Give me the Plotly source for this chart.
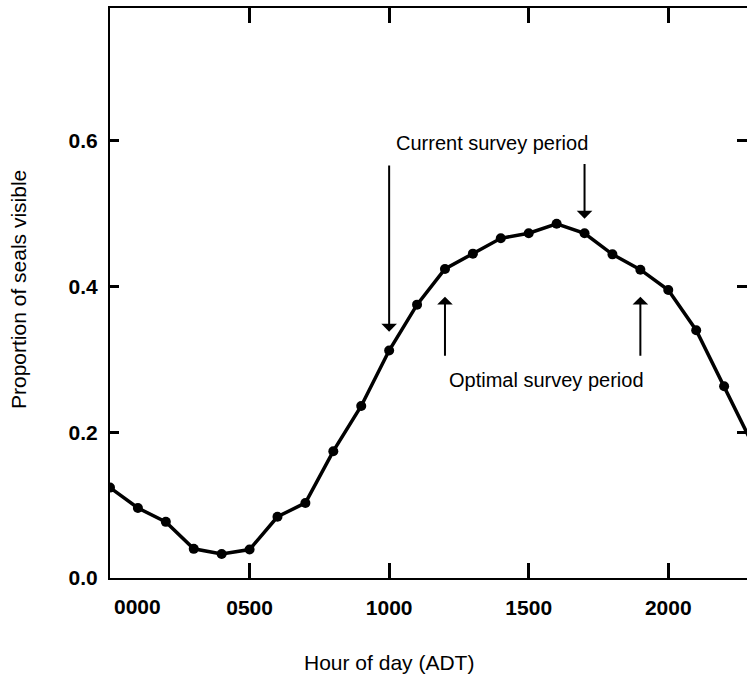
import plotly.graph_objects as go

# Data: hour of day (ADT, x100) and proportion of seals visible
hours = [0, 100, 200, 300, 400, 500, 600, 700, 800, 900, 1000, 1100,
         1200, 1300, 1400, 1500, 1600, 1700, 1800, 1900, 2000, 2100, 2200, 2300]
proportion = [0.124, 0.096, 0.077, 0.040, 0.033, 0.039, 0.084, 0.103, 0.174, 0.236,
              0.312, 0.375, 0.424, 0.445, 0.466, 0.473, 0.486, 0.473, 0.444, 0.423,
              0.395, 0.340, 0.263, 0.185]

xtick_vals = [500, 1000, 1500, 2000]
xtick_text = ["0500", "1000", "1500", "2000"]
ytick_vals = [0.0, 0.2, 0.4, 0.6]
ytick_text = ["0.0", "0.2", "0.4", "0.6"]

current_period = [1000, 1700]
optimal_period = [1200, 1900]

FONT = "Liberation Sans, Arial, Helvetica, sans-serif"
XR = [0, 2282]
YR = [0, 0.782]

W, H = 747, 674
ML, MR, MT, MB = 110, 0, 8, 96
PW, PH = W - ML - MR, H - MT - MB

fig = go.Figure()
fig.add_trace(go.Scatter(
    x=hours, y=proportion, mode="lines+markers",
    line=dict(color="black", width=3.5),
    marker=dict(color="black", size=10),
    showlegend=False, hoverinfo="skip",
))
# invisible trace that carries the right-hand tick axis
fig.add_trace(go.Scatter(x=[hours[0]], y=[proportion[0]], yaxis="y2",
                         mode="markers", marker=dict(opacity=0),
                         showlegend=False, hoverinfo="skip"))

fig.update_layout(
    template="none",
    width=W, height=H,
    margin=dict(l=ML, r=MR, t=MT, b=MB),
    paper_bgcolor="white", plot_bgcolor="white",
    font=dict(family=FONT, color="black"),
    xaxis=dict(
        range=XR, showgrid=False, zeroline=False,
        showline=True, linecolor="black", linewidth=2, mirror="ticks",
        ticks="inside", ticklen=15, tickwidth=3, tickcolor="black",
        tickvals=xtick_vals, ticktext=xtick_text,
        tickfont=dict(size=21, family=FONT, weight="bold"),
        ticklabelstandoff=10,
    ),
    yaxis=dict(
        range=YR, showgrid=False, zeroline=False,
        showline=True, linecolor="black", linewidth=2,
        ticks="inside", ticklen=9, tickwidth=2.5, tickcolor="black",
        tickvals=ytick_vals, ticktext=ytick_text,
        tickfont=dict(size=21, family=FONT, weight="bold"),
        ticklabelstandoff=6,
    ),
    yaxis2=dict(
        range=YR, overlaying="y", side="right", anchor="x",
        showgrid=False, zeroline=False, showline=False,
        ticks="inside", ticklen=10, tickwidth=3, tickcolor="black",
        tickvals=ytick_vals[1:], showticklabels=False,
    ),
)

annotations = [
    # "0000" tick label (offset to the right as in the original)
    dict(x=100, y=0, xref="x", yref="y", yshift=-28, text="0000", showarrow=False,
         font=dict(size=21, family=FONT, weight="bold"), xanchor="center", yanchor="middle"),
    # axis titles
    dict(x=389, y=662, xref="paper", yref="paper", text="Hour of day (ADT)", showarrow=False,
         font=dict(size=21, family=FONT)),
    dict(x=18, y=290, xref="paper", yref="paper", text="Proportion of seals visible",
         showarrow=False, textangle=-90, font=dict(size=21, family=FONT)),
    # period labels
    dict(x=(current_period[0] + current_period[1]) / 2 + 20, y=0.597, xref="x", yref="y",
         text="Current survey period", showarrow=False, font=dict(size=20, family=FONT)),
    dict(x=(optimal_period[0] + optimal_period[1]) / 2 + 15, y=0.271, xref="x", yref="y",
         text="Optimal survey period", showarrow=False, font=dict(size=20, family=FONT)),
    # arrows
    dict(x=current_period[0], y=0.338, ax=current_period[0], ay=0.568, xref="x", yref="y",
         axref="x", ayref="y", text="", showarrow=True, arrowhead=1, arrowsize=1.3,
         arrowwidth=2, arrowcolor="black"),
    dict(x=current_period[1], y=0.493, ax=current_period[1], ay=0.570, xref="x", yref="y",
         axref="x", ayref="y", text="", showarrow=True, arrowhead=1, arrowsize=1.3,
         arrowwidth=2, arrowcolor="black"),
    dict(x=optimal_period[0], y=0.386, ax=optimal_period[0], ay=0.303, xref="x", yref="y",
         axref="x", ayref="y", text="", showarrow=True, arrowhead=1, arrowsize=1.3,
         arrowwidth=2, arrowcolor="black"),
    dict(x=optimal_period[1], y=0.386, ax=optimal_period[1], ay=0.303, xref="x", yref="y",
         axref="x", ayref="y", text="", showarrow=True, arrowhead=1, arrowsize=1.3,
         arrowwidth=2, arrowcolor="black"),
]
for a in annotations:
    if a.get("xref") == "paper":
        a["x"] = (a["x"] - ML) / PW
        a["y"] = 1 - (a["y"] - MT) / PH
        a["xanchor"] = "center"
        a["yanchor"] = "middle"
fig.update_layout(annotations=annotations)

fig.write_html("out.html")
